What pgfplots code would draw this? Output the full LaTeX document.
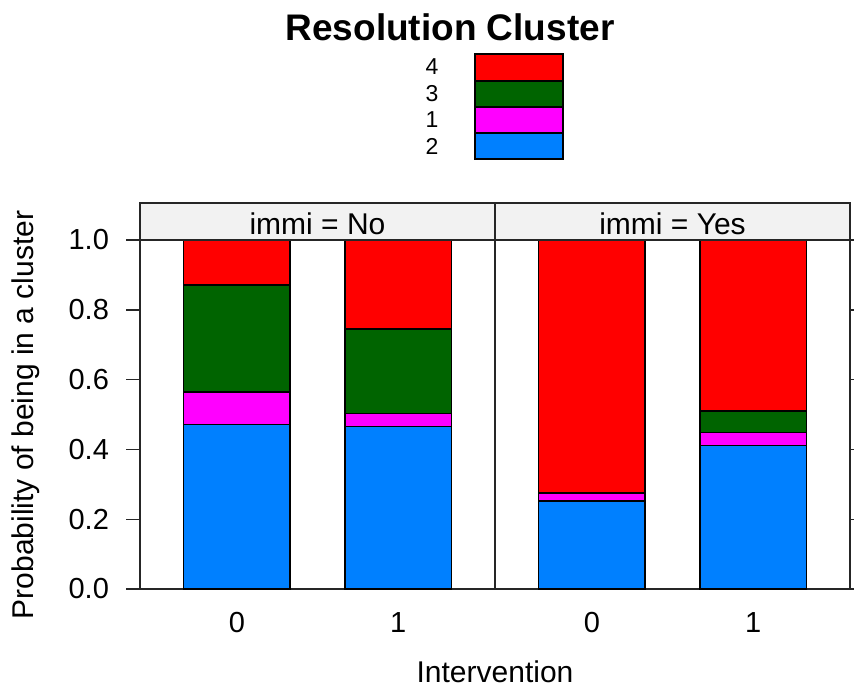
\documentclass[border=0pt]{standalone}
\usepackage{pgfplots}
\pgfplotsset{compat=1.18}
\usepackage{fontspec}
\setmainfont{Liberation Sans}

\definecolor{cl2}{HTML}{0080FF}
\definecolor{cl1}{HTML}{FF00FF}
\definecolor{cl3}{HTML}{006400}
\definecolor{cl4}{HTML}{FF0000}
\definecolor{stripbg}{HTML}{F2F2F2}

\newcommand{\tickfont}{\fontsize{14.5}{16}\selectfont}
\newcommand{\labfont}{\fontsize{15}{17}\selectfont}

\pgfplotsset{
  panel/.style={
    scale only axis,
    width=177.5pt, height=174.5pt,
    xmin=-0.6, xmax=1.6, ymin=0, ymax=1,
    ybar stacked, bar width=0.66,
    axis line style={line width=0.7pt, black!85},
    xtick={0,1}, xticklabels={0,1},
    xtick style={draw=none},
    xticklabel style={font=\tickfont, yshift=-1pt},
    ytick={0,0.2,...,1.0},
    tick align=outside,
    major tick length=7pt,
    ytick style={line width=0.7pt, black!85},
    yticklabel style={font=\tickfont, xshift=-5pt, /pgf/number format/.cd, fixed, fixed zerofill, precision=1},
    /pgf/number format/assume math mode=true,
    clip=false,
    every axis plot/.append style={draw=black, line width=0.7pt},
  },
}

\begin{document}
\begin{tikzpicture}
% left panel: immi = No
\begin{axis}[panel, name=pNo, at={(70pt,49pt)}, anchor=south west, ytick pos=left]
  \addplot[fill=cl2] coordinates {(0,0.472) (1,0.466)};
  \addplot[fill=cl1] coordinates {(0,0.092) (1,0.037)};
  \addplot[fill=cl3] coordinates {(0,0.307) (1,0.242)};
  \addplot[fill=cl4] coordinates {(0,0.129) (1,0.255)};
\end{axis}
% right panel: immi = Yes
\begin{axis}[panel, name=pYes, at={(247.5pt,49pt)}, anchor=south west, ytick pos=right, yticklabels={}]
  \addplot[fill=cl2] coordinates {(0,0.252) (1,0.411)};
  \addplot[fill=cl1] coordinates {(0,0.023) (1,0.038)};
  \addplot[fill=cl3] coordinates {(0,0.000) (1,0.061)};
  \addplot[fill=cl4] coordinates {(0,0.725) (1,0.490)};
\end{axis}

% strips above the panels
\draw[line width=0.7pt, black!85, fill=stripbg] (70pt,223.5pt) rectangle (247.5pt,242pt);
\draw[line width=0.7pt, black!85, fill=stripbg] (247.5pt,223.5pt) rectangle (425pt,242pt);
\node[font=\labfont, inner sep=0pt] at (158.75pt,231.5pt) {immi = No};
\node[font=\labfont, inner sep=0pt] at (336.25pt,231.5pt) {immi = Yes};

% axis titles
\node[font=\labfont, inner sep=0pt] at (247.5pt,7.5pt) {Intervention};
\node[font=\labfont, inner sep=0pt, rotate=90] at (13pt,136pt) {Probability of being in a cluster};

% title and key
\node[font=\bfseries\fontsize{18.5}{20}\selectfont, inner sep=0pt] at (225pt,330pt) {Resolution Cluster};
\begin{scope}[line width=0.7pt]
  \draw[fill=cl4] (237.5pt,303pt) rectangle (281.5pt,316.5pt);
  \draw[fill=cl3] (237.5pt,290pt) rectangle (281.5pt,303pt);
  \draw[fill=cl1] (237.5pt,277pt) rectangle (281.5pt,290pt);
  \draw[fill=cl2] (237.5pt,264pt) rectangle (281.5pt,277pt);
\end{scope}
\begin{scope}[font=\fontsize{11.5}{13}\selectfont, inner sep=0pt]
  \node at (216pt,310pt) {4};
  \node at (216pt,296.5pt) {3};
  \node at (216pt,283.5pt) {1};
  \node at (216pt,270.5pt) {2};
\end{scope}

\pgfresetboundingbox
\path (0,0) rectangle (427pt,343.5pt);
\end{tikzpicture}
\end{document}
